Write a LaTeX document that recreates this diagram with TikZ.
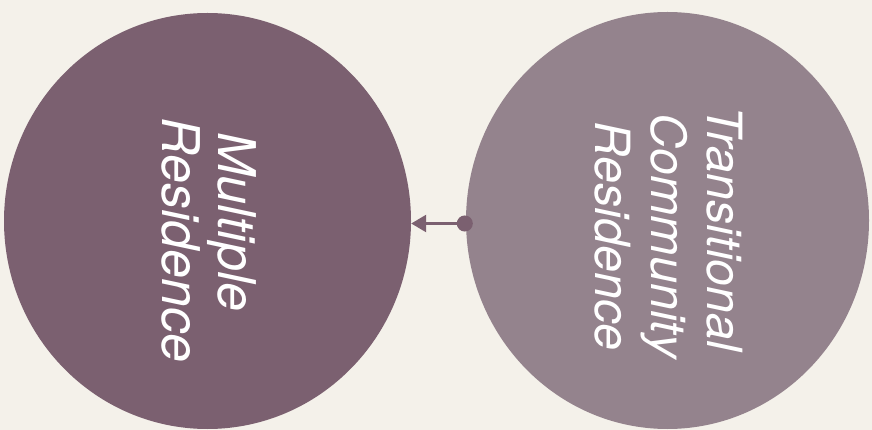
\documentclass[tikz,border=0pt]{standalone}
\usepackage{fontspec}
\newfontfamily\labelfont{TeX Gyre Heros}
\usetikzlibrary{shapes.geometric,arrows.meta}
\definecolor{bgc}{HTML}{F4F1EA}
\definecolor{darkplum}{HTML}{7B6070}
\definecolor{lightplum}{HTML}{94838D}
\tikzset{
  blob/.style={ellipse, inner sep=0pt, draw=none},
  vlabel/.style={rotate=-90, anchor=base, text=white, inner sep=0pt},
  bigtxt/.style={font=\labelfont\itshape\fontsize{52}{58}\selectfont},
  smalltxt/.style={font=\labelfont\itshape\fontsize{48.5}{56}\selectfont},
  link/.style={draw=darkplum, line width=2.6pt, {Circle[length=16pt,fill=darkplum]}-{Triangle[length=15pt,width=17pt,fill=darkplum]}}
}
\begin{document}
\begin{tikzpicture}[x=1pt,y=-1pt]
\useasboundingbox (0,0) rectangle (872,430);
\fill[bgc] (0,0) rectangle (872,430);
\node[blob, fill=darkplum, minimum width=407pt, minimum height=416pt] (left) at (207.5,221) {};
\node[blob, fill=lightplum, minimum width=403pt, minimum height=417pt] (right) at (667.5,220.5) {};
\node[vlabel, bigtxt] (l1) at (218,222) {Multiple};
\node[vlabel, bigtxt] (l2) at (162,240) {Residence};
\node[vlabel, smalltxt] (r1) at (707,229) {Transitional};
\node[vlabel, smalltxt] (r2) at (651,236) {Community};
\node[vlabel, smalltxt] (r3) at (595,236) {Residence};
\coordinate (dotstart) at ([xshift=7pt,yshift=-3pt]right.west);
\draw[link] (dotstart) -- (left.east |- dotstart);
\end{tikzpicture}
\end{document}
